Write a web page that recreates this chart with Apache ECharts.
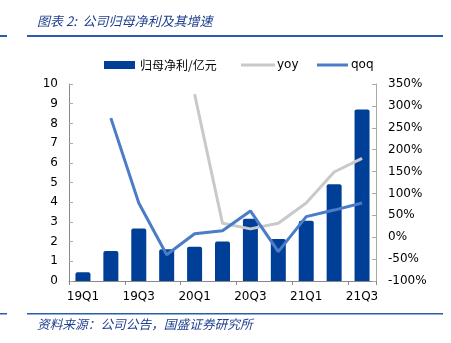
<!DOCTYPE html>
<html><head><meta charset="utf-8">
<script src="https://cdn.jsdelivr.net/npm/echarts@6/dist/echarts.min.js"></script>
<style>html,body{margin:0;padding:0;background:#fff}#c{width:451px;height:343px}</style>
</head><body><div id="c"></div>
<script>
const categories = ['19Q1','19Q2','19Q3','19Q4','20Q1','20Q2','20Q3','20Q4','21Q1','21Q2','21Q3'];
const profit = [0.44, 1.52, 2.67, 1.61, 1.74, 2.0, 3.16, 2.13, 3.06, 4.91, 8.70];
const yoy = [null, null, null, null, 327, 32, 19, 32, 78, 149, 180];
const qoq = [null, 272, 78, -40, 8, 15, 60, -33, 47, 62, 78];
const leftTicks = {min: 0, max: 10, interval: 1};
const rightTicks = {min: -100, max: 350, interval: 50};

const chart = echarts.init(document.getElementById('c'), null, {renderer: 'canvas'});
const font = 'DejaVu Sans';
const cjk = 'Noto Sans CJK SC';
const barColor = '#003f98';
const qoqColor = '#4a7cc8';
const yoyColor = '#c9c9c9';
const titleColor = '#1f3f8f';
const legendText = {color: '#000', fontSize: 12, fontFamily: cjk};
chart.setOption({
  animation: false,
  grid: {left: 69, right: 75, top: 84, bottom: 62, containLabel: false},
  legend: [
    {data: [{name: '归母净利/亿元', icon: 'path://M0,0H31V8H0Z'}], left: 99, top: 54, itemWidth: 31, itemHeight: 8, itemGap: 4, textStyle: legendText},
    {data: [{name: 'yoy', icon: 'path://M0,0H34V3H0Z'}], left: 236, top: 54, itemWidth: 34, itemHeight: 8, textStyle: {color: '#000', fontSize: 12, fontFamily: font, padding: [0,0,0,-3]}},
    {data: [{name: 'qoq', icon: 'path://M0,0H31V3H0Z'}], left: 312, top: 54, itemWidth: 31, itemHeight: 8, textStyle: {color: '#000', fontSize: 12, fontFamily: font, padding: [0,0,0,-2]}}
  ],
  xAxis: {
    type: 'category', data: categories,
    axisLine: {lineStyle: {color: '#888'}},
    axisTick: {show: true, length: 4, lineStyle: {color: '#888'}},
    axisLabel: {interval: 1, color: '#000', fontSize: 12, fontFamily: font, margin: 10}
  },
  yAxis: [
    {type: 'value', min: leftTicks.min, max: leftTicks.max, interval: leftTicks.interval,
     splitLine: {show: false},
     axisLine: {show: true, lineStyle: {color: '#888'}},
     axisTick: {show: true, inside: true, length: 4, lineStyle: {color: '#aaa'}},
     axisLabel: {color: '#000', fontSize: 12, fontFamily: font, margin: 11}},
    {type: 'value', min: rightTicks.min, max: rightTicks.max, interval: rightTicks.interval,
     position: 'right',
     splitLine: {show: false},
     axisLine: {show: true, lineStyle: {color: '#aaa'}},
     axisTick: {show: true, inside: true, length: 4, lineStyle: {color: '#aaa'}},
     axisLabel: {color: '#000', fontSize: 12, fontFamily: font, margin: 12, formatter: v => v + '%'}}
  ],
  series: [
    {name: '归母净利/亿元', type: 'bar', data: profit, barWidth: 15, itemStyle: {color: barColor, borderRadius: [2,2,0,0]}},
    {name: 'yoy', type: 'line', yAxisIndex: 1, data: yoy, symbol: 'none', lineStyle: {color: yoyColor, width: 3}, itemStyle: {color: yoyColor}},
    {name: 'qoq', type: 'line', yAxisIndex: 1, data: qoq, symbol: 'none', lineStyle: {color: qoqColor, width: 3}, itemStyle: {color: qoqColor}}
  ],
  graphic: [
    {type: 'text', left: 37, top: 15, style: {text: '图表 2:  公司归母净利及其增速', fill: titleColor, font: 'italic 13px "Noto Sans CJK SC"'}},
    {type: 'rect', shape: {x: 27, y: 35, width: 416, height: 2}, style: {fill: '#2a5cb0'}},
    {type: 'rect', shape: {x: 0, y: 35, width: 7, height: 2}, style: {fill: '#2a5cb0'}},
    {type: 'rect', shape: {x: 27, y: 313, width: 416, height: 1.5}, style: {fill: '#2a5cb0'}},
    {type: 'rect', shape: {x: 0, y: 313, width: 7, height: 1.5}, style: {fill: '#2a5cb0'}},
    {type: 'text', left: 37, top: 318, style: {text: '资料来源：公司公告，国盛证券研究所', fill: titleColor, font: 'italic 12.7px "Noto Sans CJK SC"'}}
  ]
});
</script></body></html>
